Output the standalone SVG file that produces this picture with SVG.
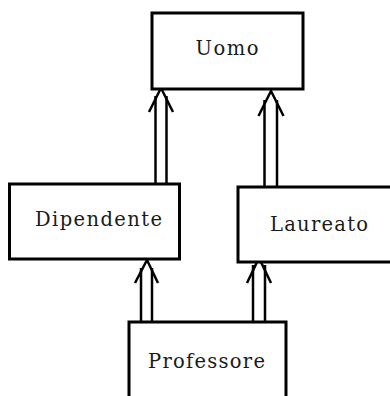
<svg xmlns="http://www.w3.org/2000/svg" width="390" height="396" viewBox="0 0 390 396">
<style>
.box{fill:#fff;stroke:#000;stroke-width:3}
.lbl{font-family:"DejaVu Serif",serif;font-size:19.5px;fill:#1a1a1a;text-anchor:middle}
.shaft{stroke:#000;stroke-width:2.5;fill:none}
.head{stroke:#000;stroke-width:2.5;fill:none;stroke-linejoin:miter}
</style>
<rect width="390" height="396" fill="#fff"/>
<g id="connectors">
<g id="dip-uomo"><line class="shaft" x1="155.5" y1="184" x2="155.5" y2="96"/><line class="shaft" x1="166.5" y1="184" x2="166.5" y2="96"/><polyline class="head" points="149,112 161,88 173,112"/></g>
<g id="lau-uomo"><line class="shaft" x1="264.5" y1="187" x2="264.5" y2="100"/><line class="shaft" x1="277" y1="187" x2="277" y2="100"/><polyline class="head" points="258.5,116 271,91 283.5,116"/></g>
<g id="prof-dip"><line class="shaft" x1="141" y1="322" x2="141" y2="268"/><line class="shaft" x1="152" y1="322" x2="152" y2="268"/><polyline class="head" points="135,283 147,260 158,283"/></g>
<g id="prof-lau"><line class="shaft" x1="253" y1="322" x2="253" y2="265"/><line class="shaft" x1="265" y1="322" x2="265" y2="265"/><polyline class="head" points="247,283 259,258 271,283"/></g>
</g>
<g id="uomo"><rect class="box" x="152" y="13" width="151" height="76"/><text class="lbl" x="227" y="55" textLength="63" lengthAdjust="spacing">Uomo</text></g>
<g id="dipendente"><rect class="box" x="9.5" y="184" width="170" height="75"/><text class="lbl" x="98.5" y="226" textLength="127" lengthAdjust="spacing">Dipendente</text></g>
<g id="laureato"><rect class="box" x="238" y="187" width="160" height="75"/><text class="lbl" x="319" y="231" textLength="98" lengthAdjust="spacing">Laureato</text></g>
<g id="professore"><rect class="box" x="129" y="322" width="157" height="90"/><text class="lbl" x="206.5" y="367.5" textLength="117" lengthAdjust="spacing">Professore</text></g>
</svg>
